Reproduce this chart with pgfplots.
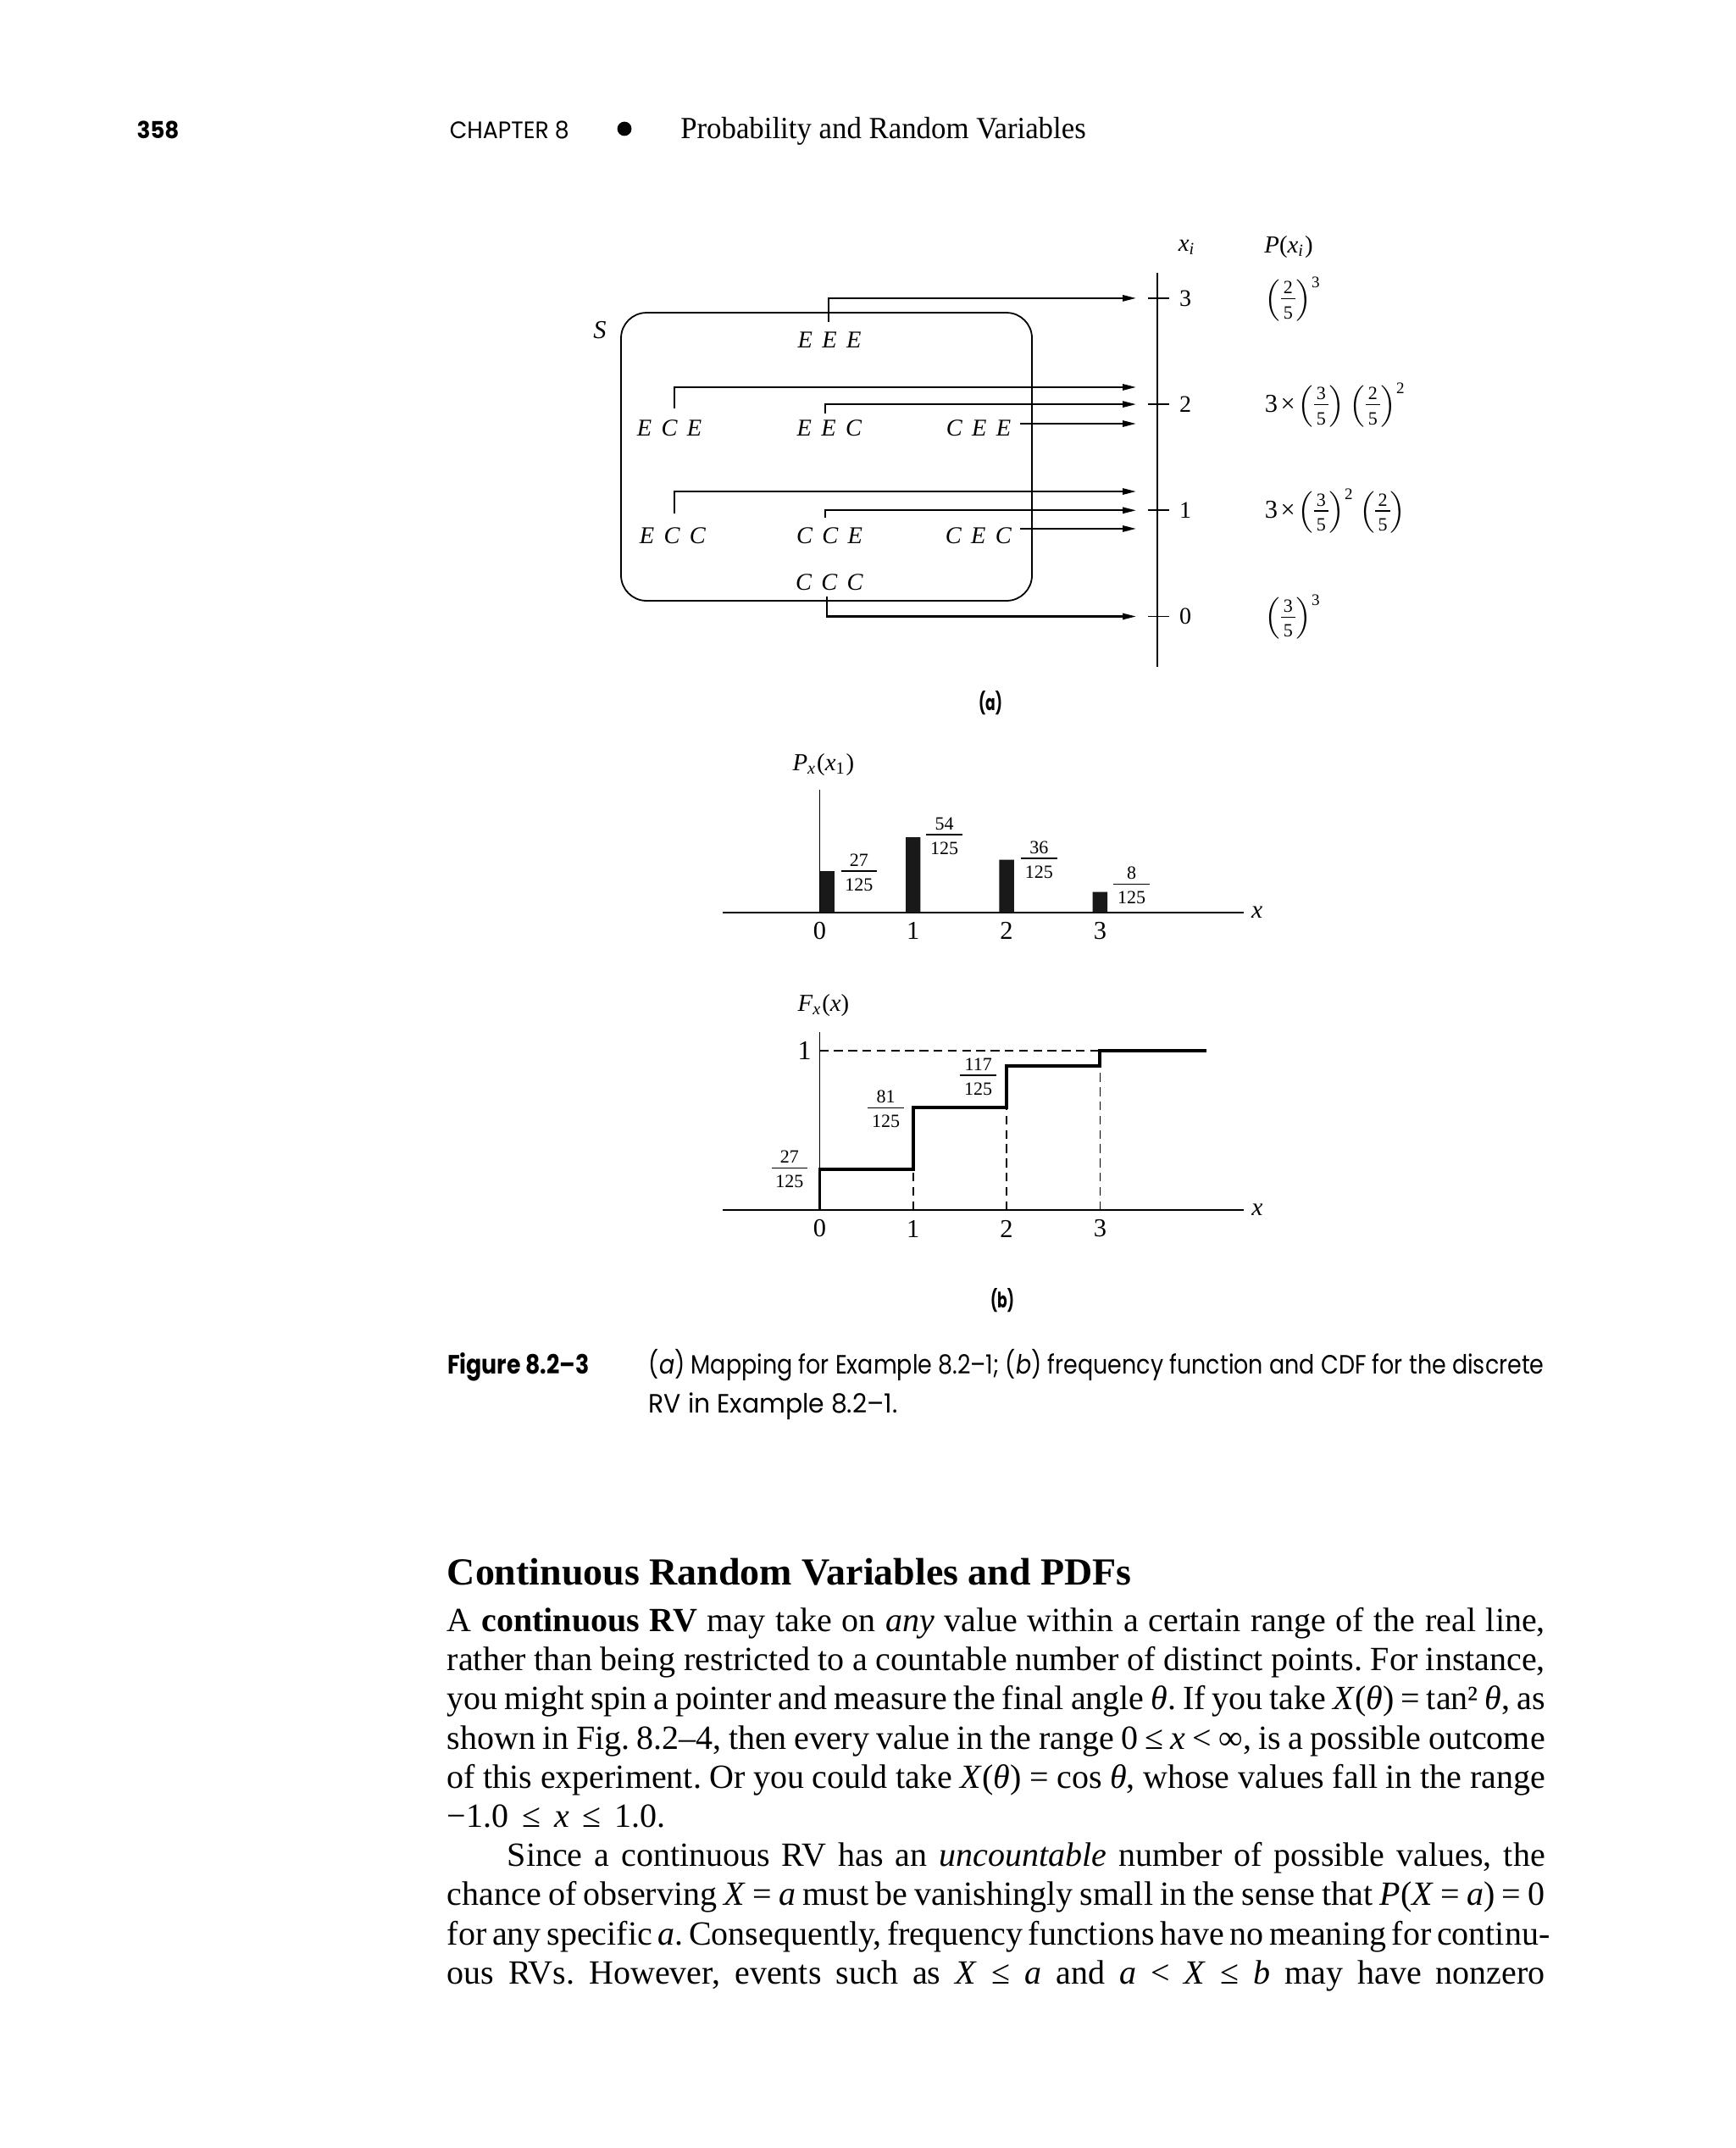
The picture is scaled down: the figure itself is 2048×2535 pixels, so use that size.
\documentclass[border=0pt]{standalone}
\usepackage{fix-cm}
\usepackage{amsmath}
\usepackage{pgfplots}
\pgfplotsset{compat=1.18}
\usetikzlibrary{arrows.meta}
\usepackage{graphicx}
\usepackage{fontspec}
\setmainfont{Liberation Serif}
\newfontfamily\futura{Poppins}
\newcommand\fs[1]{\fontsize{#1}{#1}\selectfont}
\newcommand\lab[3]{\fs{7.1}\textit{#1\hspace{0.4em}#2\hspace{0.4em}#3}}
\newcommand\fr[2]{{\renewcommand\arraystretch{0}\setlength\arrayrulewidth{0.3pt}%
  \begin{tabular}{@{\hspace{0.12em}}c@{\hspace{0.12em}}}\fs{5.5}\rule[-0.24em]{0pt}{0.7em}#1\\\hline\fs{5.5}\rule{0pt}{1.04em}#2\end{tabular}}}
\newcommand\thr{{\fs{7.6}3\hspace{0.12em}×\hspace{0.1em}}}
\frenchspacing
\tikzset{arr/.style={line width=0.55pt, -{Triangle[length=4pt,width=1.8pt]}},
         dsh/.style={line width=0.4pt, dash pattern=on 2.6pt off 1.6pt}}
\begin{document}
\begin{tikzpicture}[x=0.25pt,y=-0.25pt]
\fill[white] (0,0) rectangle (2048,2535);
\path[use as bounding box] (0,0) rectangle (2048,2535);

% ---------- running head ----------
\node[anchor=base west,inner sep=0] at (160.7,163.3) {\resizebox{12.5pt}{5.15pt}{\futura\bfseries 358}};
\node[anchor=base west,inner sep=0] at (530,163.3) {\resizebox{35.25pt}{5.15pt}{\futura CHAPTER 8}};
\fill (737,152) circle[radius=2.1pt];
\node[anchor=base west,inner sep=0] at (802.5,163.3) {\resizebox{119.6pt}{\height}{\fs{9.06}Probability and Random Variables}};

% ---------- (a) mapping diagram ----------
\begin{axis}[at={(0pt,-200.655pt)}, anchor=south west, scale only axis,
  width=512pt, height=131.46pt, xmin=0, xmax=2048, ymin=-0.6, ymax=3.6,
  enlargelimits=false, hide axis, clip=false]
 \draw[line width=0.45pt] (axis cs:1366,-0.475) -- (axis cs:1366,3.24);
 \draw[line width=0.45pt] (axis cs:1355,3) -- (axis cs:1380,3);
 \draw[line width=0.45pt] (axis cs:1355,2) -- (axis cs:1380,2);
 \draw[line width=0.45pt] (axis cs:1355,1) -- (axis cs:1380,1);
 \draw[line width=0.45pt] (axis cs:1355,0) -- (axis cs:1380,0);
 \node[font=\fs{7}] at (axis cs:1399,3) {3};
 \node[font=\fs{7}] at (axis cs:1399,2) {2};
 \node[font=\fs{7}] at (axis cs:1399,1) {1};
 \node[font=\fs{7}] at (axis cs:1399,0) {0};
 \node[font=\fs{7.2}] at (axis cs:1401,3.48) {\textit{x}\textsubscript{\textit{i}}};
 \node[font=\fs{7.2}] at (axis cs:1521,3.48) {\textit{P}(\textit{x}\textsubscript{\textit{i}})};
 \draw[line width=0.45pt, rounded corners=7.5pt] (axis cs:733,2.863) rectangle (axis cs:1218,0.148);
 \node[font=\fs{7.6}] at (axis cs:708,2.696) {\textit{S}};
 \node at (axis cs:979,2.608) {\lab EEE};
 \node at (axis cs:790,1.777) {\lab ECE};
 \node at (axis cs:979,1.777) {\lab EEC};
 \node at (axis cs:1155,1.777) {\lab CEE};
 \node at (axis cs:794,0.763) {\lab ECC};
 \node at (axis cs:979,0.763) {\lab CCE};
 \node at (axis cs:1155,0.763) {\lab CEC};
 \node at (axis cs:979,0.324) {\lab CCC};
 % mappings X(s) -> x_i
 \addplot[arr, mark=none] coordinates {(978,2.776) (978,3) (1341,3)};
 \addplot[arr, mark=none] coordinates {(796,1.961) (796,2.161) (1341,2.161)};
 \addplot[arr, mark=none] coordinates {(974,1.913) (974,2) (1341,2)};
 \addplot[arr, mark=none] coordinates {(1204,1.817) (1341,1.817)};
 \addplot[arr, mark=none] coordinates {(796,0.970) (796,1.178) (1341,1.178)};
 \addplot[arr, mark=none] coordinates {(974,0.931) (974,1) (1341,1)};
 \addplot[arr, mark=none] coordinates {(1204,0.827) (1341,0.827)};
 \addplot[arr, mark=none] coordinates {(976,0.188) (976,0) (1341,0)};
 % probabilities
 \node[font=\fs{6.8}, anchor=mid west, inner sep=0] at (axis cs:1492,3) {$\left(\fr{2}{5}\right)^{\text{3}}$};
 \node[font=\fs{6.8}, anchor=mid west, inner sep=0] at (axis cs:1492,2) {\thr$\left(\fr{3}{5}\right)\left(\fr{2}{5}\right)^{\text{2}}$};
 \node[font=\fs{6.8}, anchor=mid west, inner sep=0] at (axis cs:1492,1) {\thr$\left(\fr{3}{5}\right)^{\text{2}}\left(\fr{2}{5}\right)$};
 \node[font=\fs{6.8}, anchor=mid west, inner sep=0] at (axis cs:1492,0) {$\left(\fr{3}{5}\right)^{\text{3}}$};
\end{axis}
\node[anchor=base,inner sep=0] at (1169,838.3) {\resizebox{7pt}{\height}{\futura\bfseries\fs{6.3}(a)}};

% ---------- (b) frequency function ----------
\begin{axis}[at={(213.25pt,-269.25pt)}, anchor=south west, scale only axis,
  width=153.75pt, height=36.25pt, xmin=-1.038, xmax=4.538, ymin=0, ymax=0.697,
  enlargelimits=false, clip=false, axis line style={draw=none}, tick style={draw=none},
  xtick={0,1,2,3}, ytick=\empty, /pgf/number format/assume math mode=true,
  xticklabel style={anchor=center, yshift=-5.3pt, font=\fs{7.6}}]
 \draw[line width=0.4pt] (axis cs:-1.038,0) -- (axis cs:4.538,0);
 \draw[line width=0.4pt] (axis cs:0,0) -- (axis cs:0,0.697);
 \addplot[ybar, bar width=0.157, bar shift=0.0785, fill=black!90, draw=none] coordinates {(0,0.234)};
 \addplot[ybar, bar width=0.157, bar shift=0, fill=black!90, draw=none] coordinates {(1,0.427) (2,0.300) (3,0.117)};
 \node at (axis cs:0.42,0.228) {\fr{27}{125}};
 \node at (axis cs:1.334,0.434) {\fr{54}{125}};
 \node at (axis cs:2.347,0.300) {\fr{36}{125}};
 \node at (axis cs:3.337,0.154) {\fr{8}{125}};
 \node[font=\fs{7.4}] at (axis cs:4.68,0) {\textit{x}};
 \node[font=\fs{7.2}] at (axis cs:0.04,0.837) {\textit{P}\textsubscript{\textit{x}}(\textit{x}\textsubscript{1})};
\end{axis}

% ---------- (b) CDF ----------
\begin{axis}[at={(213.25pt,-357pt)}, anchor=south west, scale only axis,
  width=153.75pt, height=52.5pt, xmin=-1.038, xmax=4.538, ymin=0, ymax=1.117,
  enlargelimits=false, clip=false, axis line style={draw=none}, tick style={draw=none},
  xtick={0,1,2,3}, ytick=\empty, /pgf/number format/assume math mode=true,
  xticklabel style={anchor=center, yshift=-5.5pt, font=\fs{7.6}}]
 \draw[line width=0.4pt] (axis cs:-1.038,0) -- (axis cs:4.538,0);
 \draw[line width=0.4pt] (axis cs:0,0) -- (axis cs:0,1.117);
 \draw[dsh] (axis cs:0,1) -- (axis cs:3,1);
 \draw[dsh] (axis cs:1,0) -- (axis cs:1,0.255);
 \draw[dsh] (axis cs:2,0) -- (axis cs:2,0.644);
 \draw[dsh] (axis cs:3,0) -- (axis cs:3,0.904);
 \addplot[const plot, line width=0.95pt, mark=none] coordinates {(0,0) (0,0.255) (1,0.644) (2,0.904) (3,1) (4.14,1)};
 \node[font=\fs{8}] at (axis cs:-0.163,1) {1};
 \node at (axis cs:-0.322,0.255) {\fr{27}{125}};
 \node at (axis cs:0.708,0.633) {\fr{81}{125}};
 \node at (axis cs:1.697,0.837) {\fr{117}{125}};
 \node[font=\fs{7.4}] at (axis cs:4.683,0) {\textit{x}};
 \node[font=\fs{7.2}] at (axis cs:0.04,1.283) {\textit{F}\textsubscript{\textit{x}}(\textit{x})};
\end{axis}
\node[anchor=base,inner sep=0] at (1183,1543) {\resizebox{7pt}{\height}{\futura\bfseries\fs{6.3}(b)}};

% ---------- caption ----------
\node[anchor=base west,inner sep=0] at (527.3,1621.7) {\resizebox{41.9pt}{\height}{\futura\bfseries\fs{7.8}Figure 8.2–3}};
\node[anchor=base west,inner sep=0] at (765,1621.7) {\resizebox{264.2pt}{\height}{\futura\fs{7.8}(\textit{a}) Mapping for Example 8.2–1; (\textit{b}) frequency function and CDF for the discrete}};
\node[anchor=base west,inner sep=0] at (765,1667.3) {\resizebox{73.4pt}{\height}{\futura\fs{7.8}RV in Example 8.2–1.}};

% ---------- section text ----------
\node[anchor=base west,inner sep=0] at (527,1870.5) {\resizebox{202pt}{\height}{\fs{11.3}\bfseries Continuous Random Variables and PDFs}};
\begin{scope}[every node/.style={anchor=base west,inner sep=0,font=\fs{10}}]
\node at (527,1925.5) {\makebox[324pt][s]{A {\bfseries continuous RV} may take on \textit{any} value within a certain range of the real line,}};
\node at (527,1971.7) {\makebox[324pt][s]{rather than being restricted to a countable number of distinct points. For instance,}};
\node at (527,2017.9) {\makebox[324pt][s]{you might spin a pointer and measure the final angle \textit{θ}. If you take \textit{X}(\textit{θ}) = tan² \textit{θ}, as}};
\node at (527,2064.1) {\makebox[324pt][s]{shown in Fig. 8.2–4, then every value in the range 0 ≤ \textit{x} < ∞, is a possible outcome}};
\node at (527,2110.3) {\makebox[324pt][s]{of this experiment. Or you could take \textit{X}(\textit{θ}) = cos \textit{θ}, whose values fall in the range}};
\node at (527,2156.5) {\makebox[64.5pt][s]{−1.0 ≤ \textit{x} ≤ 1.0.}};
\node at (598,2202.7) {\makebox[306.25pt][s]{Since a continuous RV has an \textit{uncountable} number of possible values, the}};
\node at (527,2248.9) {\makebox[324pt][s]{chance of observing \textit{X} = \textit{a} must be vanishingly small in the sense that \textit{P}(\textit{X} = \textit{a}) = 0}};
\node at (527,2295.1) {\makebox[324pt][s]{for any specific \textit{a}. Consequently, frequency functions have no meaning for continu-}};
\node at (527,2341.3) {\makebox[324pt][s]{ous RVs. However, events such as \textit{X} ≤ \textit{a} and \textit{a} < \textit{X} ≤ \textit{b} may have nonzero}};
\end{scope}
\end{tikzpicture}
\end{document}
